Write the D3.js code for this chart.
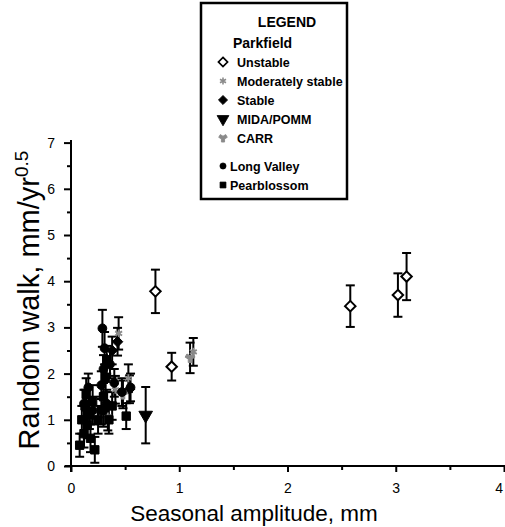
<!DOCTYPE html>
<html>
<head>
<meta charset="utf-8">
<script src="https://cdn.jsdelivr.net/npm/d3@7"></script>
<style>
  body { margin: 0; background: #fff; }
  svg { display: block; font-family: "Liberation Sans", Arial, sans-serif; }
  .tick text { font-size: 14px; fill: #000; }
  .legend-text { font-weight: bold; font-size: 12.5px; }
</style>
</head>
<body>
<div id="chart"></div>
<script>
// -----------------------------------------------------------------------
// Data: [seasonal amplitude (mm), random walk (mm/yr^0.5), error (±)]
// -----------------------------------------------------------------------

const unstable = [
  [0.78, 3.78, 0.47], [0.93, 2.15, 0.30], [2.58, 3.46, 0.45],
  [3.02, 3.70, 0.47], [3.10, 4.10, 0.51],
];
const moderatelyStable = [
  [0.44, 2.87, 0.35], [1.13, 2.47, 0.30], [0.34, 1.07, 0.30],
  [0.53, 1.90, 0.30], [0.41, 1.65, 0.30],
];
const stable = [
  [0.43, 2.69, 0.30], [0.38, 2.50, 0.30], [0.54, 1.66, 0.30], [0.30, 1.20, 0.35],
];
const midaPomm = [[0.69, 1.10, 0.61]];
const carr = [[1.10, 2.34, 0.33], [0.48, 1.55, 0.30]];
const longValley = [
  [0.29, 2.98, 0.40], [0.31, 2.55, 0.35], [0.30, 2.10, 0.30], [0.28, 1.75, 0.30],
  [0.33, 1.35, 0.30], [0.16, 1.70, 0.30], [0.12, 1.35, 0.30], [0.36, 2.20, 0.30],
  [0.40, 1.80, 0.30], [0.47, 1.60, 0.30], [0.55, 1.70, 0.30], [0.20, 1.20, 0.30],
];
const pearblossom = [
  [0.08, 0.45, 0.25], [0.10, 1.00, 0.30], [0.12, 0.70, 0.30], [0.13, 1.30, 0.35],
  [0.15, 0.90, 0.30], [0.17, 1.10, 0.30], [0.18, 0.60, 0.30], [0.20, 1.40, 0.35],
  [0.22, 0.35, 0.28], [0.14, 1.55, 0.35], [0.25, 1.00, 0.30], [0.28, 1.20, 0.30],
  [0.30, 1.50, 0.30], [0.32, 1.90, 0.30], [0.35, 1.00, 0.30], [0.38, 1.30, 0.30],
  [0.51, 1.08, 0.28], [0.33, 2.30, 0.30],
];

const xMajor = [0, 1, 2, 3, 4];
const xMinor = [0.5, 1.5, 2.5, 3.5];
const yMajor = [0, 1, 2, 3, 4, 5, 6, 7];
const yMinor = [0.5, 1.5, 2.5, 3.5, 4.5, 5.5, 6.5];

// -----------------------------------------------------------------------
// Symbol styles per group
// -----------------------------------------------------------------------

const GREY = "#8a8a8a";
const groups = [
  { name: "Unstable", data: unstable, sym: d3.symbolDiamond2, size: 70, fill: "#fff", stroke: "#000", sw: 2 },
  { name: "Moderately stable", data: moderatelyStable, sym: d3.symbolAsterisk, size: 45, fill: "none", stroke: GREY, sw: 1.8 },
  { name: "Stable", data: stable, sym: d3.symbolDiamond2, size: 70, fill: "#000", stroke: "#000", sw: 1 },
  { name: "MIDA/POMM", data: midaPomm, sym: d3.symbolTriangle, size: 80, fill: "#000", stroke: "#000", sw: 1, rotate: 180 },
  { name: "CARR", data: carr, sym: d3.symbolWye, size: 45, fill: GREY, stroke: GREY, sw: 1 },
  { name: "Long Valley", data: longValley, sym: d3.symbolCircle, size: 60, fill: "#000", stroke: "#000", sw: 1 },
  { name: "Pearblossom", data: pearblossom, sym: d3.symbolSquare, size: 70, fill: "#000", stroke: "#000", sw: 1 },
];

// -----------------------------------------------------------------------
// SVG + scales
// -----------------------------------------------------------------------

const W = 505, H = 527;
const svg = d3.select("#chart").append("svg")
  .attr("width", W).attr("height", H);

const x = d3.scaleLinear().domain([0, 4]).range([71, 504]);
const y = d3.scaleLinear().domain([0, 7]).range([466, 142.6]);

// Axes
const gx = svg.append("g").attr("transform", `translate(0,${y(0)})`);
gx.call(d3.axisBottom(x).tickValues(xMajor).tickSize(6).tickPadding(11).tickFormat(d3.format("d")));
gx.call(g => g.append("g").call(d3.axisBottom(x).tickValues(xMinor).tickSize(4).tickFormat("")));
gx.selectAll(".domain").remove();
gx.selectAll("line").attr("stroke", "#000").attr("stroke-width", 2);
// the last label sits right on the page edge; keep it inside
gx.selectAll(".tick text").filter(d => d === 4).attr("text-anchor", "end").attr("dx", "-0.1em");
svg.append("line")
  .attr("x1", 65).attr("x2", W).attr("y1", y(0)).attr("y2", y(0))
  .attr("stroke", "#000").attr("stroke-width", 2);

const gy = svg.append("g").attr("transform", `translate(${x(0)},0)`);
gy.call(d3.axisLeft(y).tickValues(yMajor).tickSize(7).tickPadding(9).tickFormat(d3.format("d")));
gy.call(g => g.append("g").call(d3.axisLeft(y).tickValues(yMinor).tickSize(4).tickFormat("")));
gy.selectAll(".domain").remove();
gy.selectAll("line").attr("stroke", "#000").attr("stroke-width", 2);
svg.append("line")
  .attr("x1", x(0)).attr("x2", x(0)).attr("y1", 140).attr("y2", y(0) + 6)
  .attr("stroke", "#000").attr("stroke-width", 2);

// Axis titles
svg.append("text")
  .attr("x", 254).attr("y", 521)
  .attr("text-anchor", "middle")
  .style("font-size", "22.5px")
  .text("Seasonal amplitude, mm");

const yTitle = svg.append("text")
  .attr("transform", "translate(39,300) rotate(-90)")
  .attr("text-anchor", "middle")
  .style("font-size", "29px");
yTitle.append("tspan").text("Random walk, mm/yr");
yTitle.append("tspan").attr("dy", -11).style("font-size", "19px").text("0.5");

// -----------------------------------------------------------------------
// Error bars and points
// -----------------------------------------------------------------------

const plot = svg.append("g");
const CAP = 4.5;

groups.forEach(gp => {
  const eb = plot.append("g").attr("stroke", "#000").attr("stroke-width", 2);
  gp.data.forEach(([vx, vy, e]) => {
    const px = x(vx), top = y(vy + e), bot = y(Math.max(0, vy - e));
    eb.append("line").attr("x1", px).attr("x2", px).attr("y1", top).attr("y2", bot);
    eb.append("line").attr("x1", px - CAP).attr("x2", px + CAP).attr("y1", top).attr("y2", top);
    eb.append("line").attr("x1", px - CAP).attr("x2", px + CAP).attr("y1", bot).attr("y2", bot);
  });
});

function drawSymbol(sel, gp, px, py, k = 1) {
  sel.append("path")
    .attr("d", d3.symbol(gp.sym, gp.size * k)())
    .attr("transform", `translate(${px},${py})` + (gp.rotate ? ` rotate(${gp.rotate})` : ""))
    .attr("fill", gp.fill)
    .attr("stroke", gp.stroke)
    .attr("stroke-width", gp.sw * Math.sqrt(k));
}

groups.forEach(gp => {
  gp.data.forEach(([vx, vy]) => drawSymbol(plot, gp, x(vx), y(vy)));
});

// -----------------------------------------------------------------------
// Legend
// -----------------------------------------------------------------------

const lg = svg.append("g");
lg.append("rect")
  .attr("x", 201).attr("y", 3).attr("width", 146).attr("height", 196)
  .attr("fill", "#fff").attr("stroke", "#000").attr("stroke-width", 2.5);
lg.append("text").attr("x", 287).attr("y", 27).attr("text-anchor", "middle")
  .style("font-weight", "bold").style("font-size", "14px").text("LEGEND");
lg.append("text").attr("x", 233).attr("y", 48)
  .style("font-weight", "bold").style("font-size", "14px").text("Parkfield");

const legendRows = [62, 81, 100, 119, 138, 166, 185];
groups.forEach((gp, i) => {
  const ry = legendRows[i];
  const parkfield = i < 5;
  drawSymbol(lg, gp, 223, ry, parkfield ? 0.75 : 0.5);
  lg.append("text")
    .attr("class", "legend-text")
    .attr("x", parkfield ? 237 : 230).attr("y", ry)
    .attr("dy", "0.36em")
    .text(gp.name);
});
</script>
</body>
</html>
